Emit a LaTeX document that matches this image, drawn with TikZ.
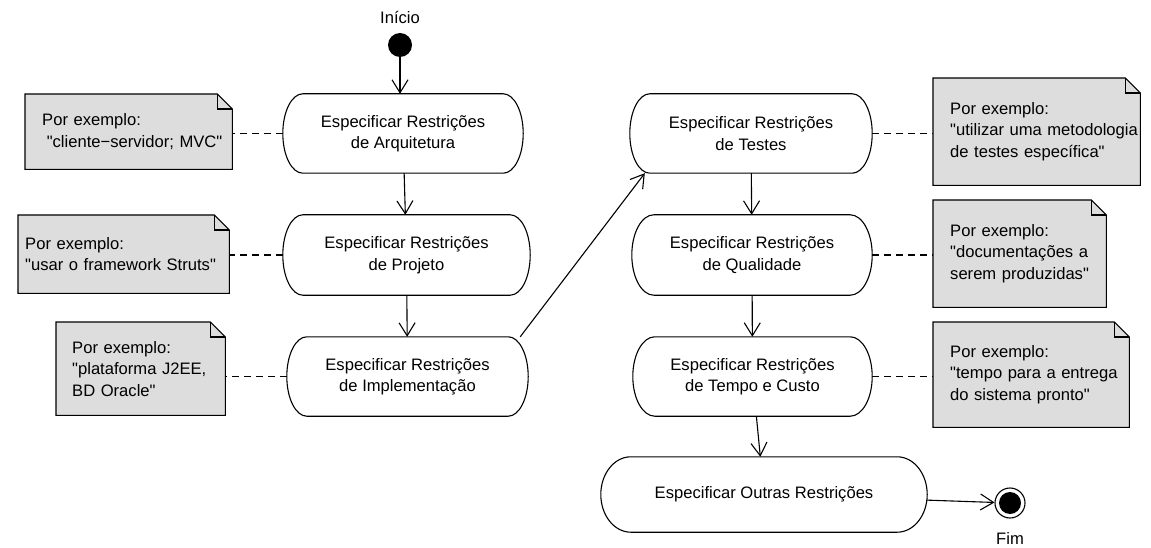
\documentclass[tikz,border=0pt]{standalone}
\usepackage{fontspec}
\setmainfont{Liberation Sans}[Ligatures=TeXOff]
\usetikzlibrary{arrows.meta,calc,backgrounds}
\definecolor{notegray}{RGB}{221,221,221}
\tikzset{
  base/.style={line width=1.1pt},
  act/.style={draw=none, align=center, inner sep=0pt},
  notebox/.style={draw=none, anchor=north west, align=left, inner ysep=0pt},
  flow/.style={base, -{Straight Barb[length=13pt,width=16pt]}},
  link/.style={base, dash pattern=on 7pt off 5pt},
  every node/.style={font=\fontsize{16.6}{21.5}\selectfont},
}
\newcommand\drawact[2]{%
  \draw[base] let \p1=(#1.north), \p2=(#1.south), \n1={abs(\y1-\y2)/2} in
    ([xshift=#2]#1.north west) -- ([xshift=-#2]#1.north east)
    arc[start angle=90, end angle=-90, x radius=#2, y radius=\n1]
    -- ([xshift=#2]#1.south west)
    arc[start angle=270, end angle=90, x radius=#2, y radius=\n1] -- cycle;}
\newcommand\drawnote[1]{%
  \draw[base, fill=notegray] (#1.north west) -- ([xshift=-15pt]#1.north east)
    -- ([yshift=-15pt]#1.north east) -- (#1.south east) -- (#1.south west) -- cycle;
  \draw[base] ([xshift=-15pt]#1.north east) |- ([yshift=-15pt]#1.north east);}
\begin{document}
\begin{tikzpicture}[x=1pt,y=-1pt]
\useasboundingbox (0,0) rectangle (1151,548);

% start / end
\node[circle, fill=black, minimum size=24pt, inner sep=0pt] (start) at (400,45) {};
\node (startlbl) at (400,17) {Início};
\node[circle, draw, base, minimum size=30pt, inner sep=0pt] (end) at (1010,503) {};
\fill (end.center) circle (11pt);
\node (endlbl) at (1010,538) {Fim};

% actions
\node[act, minimum width=240pt, minimum height=79pt] (L1) at (403,133.5) {Especificar Restrições\\de Arquitetura};
\node[act, minimum width=247pt, minimum height=80pt] (L2) at (406.5,255) {Especificar Restrições\\de Projeto};
\node[act, minimum width=241pt, minimum height=79pt] (L3) at (407.5,376.5) {Especificar Restrições\\de Implementação};
\node[act, minimum width=242pt, minimum height=79pt] (R1) at (751,133.5) {Especificar Restrições\\de Testes};
\node[act, minimum width=240pt, minimum height=80pt] (R2) at (752,255) {Especificar Restrições\\de Qualidade};
\node[act, minimum width=239pt, minimum height=79pt] (R3) at (752.5,376.5) {Especificar Restrições\\de Tempo e Custo};
\node[act, minimum width=326pt, minimum height=75pt] (R4) at (764,494.5) {Especificar Outras Restrições};
\drawact{L1}{20pt}
\drawact{L2}{20pt}
\drawact{L3}{20pt}
\drawact{R1}{20pt}
\drawact{R2}{22pt}
\drawact{R3}{22pt}
\drawact{R4}{30pt}

% notes
\node[notebox, inner xsep=17pt, text width=173pt, minimum height=75pt] (NL1) at (25,94) {Por exemplo:\\\hspace*{4.6pt}\mbox{"cliente−servidor; MVC"}};
\node[notebox, inner xsep=7pt, text width=197pt, minimum height=78pt] (NL2) at (18,215) {Por exemplo:\\\mbox{"usar o framework Struts"}};
\node[notebox, inner xsep=16pt, text width=137pt, minimum height=93pt] (NL3) at (56,322) {Por exemplo:\\\mbox{"plataforma J2EE,}\\BD Oracle"};
\node[notebox, inner xsep=17pt, text width=173pt, minimum height=107pt] (NR1) at (933,78) {Por exemplo:\\\mbox{"utilizar uma metodologia}\\\mbox{de testes específica"}};
\node[notebox, inner xsep=17pt, text width=139pt, minimum height=107pt] (NR2) at (933,200) {Por exemplo:\\\mbox{"documentações a}\\\mbox{serem produzidas"}};
\node[notebox, inner xsep=17pt, text width=162pt, minimum height=105pt] (NR3) at (933,322) {Por exemplo:\\\mbox{"tempo para a entrega}\\\mbox{do sistema pronto"}};
\begin{scope}[on background layer]
\drawnote{NL1}
\drawnote{NL2}
\drawnote{NL3}
\drawnote{NR1}
\drawnote{NR2}
\drawnote{NR3}
\end{scope}

% flows
\draw[flow] (start) -- (start |- L1.north);
\draw[flow] (L1) -- (L2);
\draw[flow] (L2) -- (L3);
\draw[flow] ([xshift=-8pt]L3.north east) -- ([xshift=15pt]R1.south west);
\draw[flow] (R1) -- (R2);
\draw[flow] (R2) -- (R3);
\draw[flow] (R3) -- (R4);
\draw[flow] (R4) -- (end);

% note links
\draw[link] (L1.west) -- (L1.west -| NL1.east);
\draw[link] (L2.west) -- (L2.west -| NL2.east);
\draw[link] (L3.west) -- (L3.west -| NL3.east);
\draw[link] (R1.east) -- (R1.east -| NR1.west);
\draw[link] (R2.east) -- (R2.east -| NR2.west);
\draw[link] (R3.east) -- (R3.east -| NR3.west);
\end{tikzpicture}
\end{document}
